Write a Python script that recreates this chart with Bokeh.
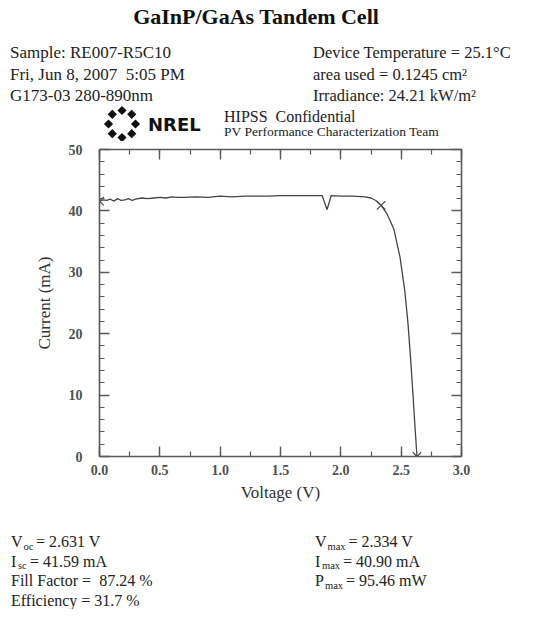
from bokeh.plotting import figure
from bokeh.layouts import column
from bokeh.models import (Range1d, LinearAxis, SingleIntervalTicker, Div,
                          ColumnDataSource, NumeralTickFormatter, CustomJSTickFormatter)
from bokeh.embed import file_html
from bokeh.resources import INLINE

# ---------------- data ----------------
voltage = [0.00, 0.03, 0.06, 0.09, 0.12, 0.15, 0.18, 0.21, 0.24, 0.27, 0.30,
           0.35, 0.40, 0.45, 0.50, 0.55, 0.60, 0.65, 0.70, 0.80, 0.90, 1.00,
           1.10, 1.20, 1.30, 1.40, 1.50, 1.60, 1.70, 1.80, 1.845, 1.886, 1.92,
           2.00, 2.10, 2.20, 2.25, 2.29, 2.334, 2.38, 2.44, 2.49, 2.53, 2.557,
           2.577, 2.596, 2.613, 2.631]
current = [41.6, 41.8, 41.7, 41.9, 41.6, 42.0, 41.7, 41.8, 42.0, 41.7, 41.9,
           42.1, 42.0, 42.1, 42.2, 42.1, 42.3, 42.2, 42.2, 42.3, 42.2, 42.4,
           42.3, 42.4, 42.4, 42.4, 42.5, 42.5, 42.5, 42.5, 42.5, 40.2, 42.5,
           42.4, 42.4, 42.3, 42.1, 41.7, 40.9, 39.6, 37.0, 32.5, 27.0, 21.6,
           16.2, 10.7, 5.3, 0.0]
marker_v = [0.0, 2.334, 2.631]
marker_i = [41.59, 40.90, 0.0]

x_ticks_interval = 0.5
y_ticks_interval = 10

title_text = "GaInP/GaAs Tandem Cell"
info_left = ["Sample: RE007-R5C10", "Fri, Jun 8, 2007&#160;&#160;5:05 PM", "G173-03 280-890nm"]
info_right = ["Device Temperature = 25.1\u00b0C", "area used = 0.1245 cm\u00b2",
              "Irradiance: 24.21 kW/m\u00b2"]
banner = ["HIPSS&#160;&#160;Confidential", "PV Performance Characterization Team"]
results_left = [("V", "oc", "= 2.631 V"), ("I", "sc", "= 41.59 mA"),
                ("Fill Factor =&#160;&#160;87.24 %", "", ""), ("Efficiency = 31.7 %", "", "")]
results_right = [("V", "max", "= 2.334 V"), ("I", "max", "= 40.90 mA"),
                 ("P", "max", "= 95.46 mW")]

SERIF = "'Liberation Serif', 'Times New Roman', serif"
INK = "#222222"
AXC = "#5a5a5a"
W = 519
HH = 141
MAIN_H = 8 + 307 + 50
FH = 609 - HH - MAIN_H

# ---------------- header (SVG text in a Div) ----------------
def t(x, y, s, size=17, weight="normal", anchor="start", fill=INK, family=SERIF):
    style = (f"font-family:{family};font-size:{size}px;font-weight:{weight};"
             f"fill:{fill};text-anchor:{anchor};white-space:pre")
    return f'<text x="{x}" y="{y}" style="{style}">{s}</text>'

parts = [t(256, 24, title_text, size=22, weight="bold", anchor="middle", fill="#111")]
for k, s in enumerate(info_left):
    parts.append(t(10, 58 + 21.5 * k, s))
for k, s in enumerate(info_right):
    parts.append(t(313, 58 + 21.5 * k, s, size=16.5))
parts.append(t(224, 122, banner[0], size=16))
parts.append(t(224, 136, banner[1], size=13.5))
# NREL logo
cx, cy, r, h = 122, 124, 13.5, 4.6
for dx, dy in [(0, -1), (0.72, -0.72), (1, 0), (0.72, 0.72), (0, 1),
               (-0.72, 0.72), (-1, 0), (-0.72, -0.72)]:
    x0, y0 = cx + dx * r, cy + dy * r
    parts.append(f'<polygon points="{x0},{y0-h} {x0+h},{y0} {x0},{y0+h} {x0-h},{y0}" fill="#111"/>')
parts.append(t(148, 131, "NREL", size=18, weight="bold", fill="#111",
               family="'DejaVu Sans', sans-serif"))
header_html = (f'<svg width="{W}" height="{HH}" xmlns="http://www.w3.org/2000/svg" '
               f'style="display:block">' + "".join(parts) + '</svg>')
hdr = Div(text=header_html, width=W, height=HH, margin=0)

# ---------------- main chart ----------------
p = figure(width=W, height=MAIN_H, output_backend="svg", toolbar_location=None,
           x_range=Range1d(0, 3), y_range=Range1d(0, 50),
           min_border_left=99, min_border_right=W - 99 - 362,
           min_border_top=8, min_border_bottom=50,
           x_axis_label="Voltage (V)", y_axis_label="Current (mA)")
p.outline_line_color = None
p.grid.visible = False

AXFONT = "Liberation Serif"

def style_axis(ax, labels=True):
    ax.axis_line_color = AXC
    ax.axis_line_width = 1.6
    ax.major_tick_line_color = AXC
    ax.minor_tick_line_color = AXC
    ax.major_tick_line_width = 1.4
    ax.minor_tick_line_width = 1.2
    ax.major_tick_in = 10
    ax.major_tick_out = 0
    ax.minor_tick_in = 5
    ax.minor_tick_out = 0
    ax.major_label_text_font = AXFONT
    ax.major_label_text_font_style = "bold"
    ax.major_label_text_font_size = "14px"
    ax.major_label_text_color = "#505050"
    ax.axis_label_text_font = AXFONT
    ax.axis_label_text_font_style = "normal"
    ax.axis_label_text_font_size = "17px"
    ax.axis_label_text_color = "#333333"
    if not labels:
        ax.formatter = CustomJSTickFormatter(code="return ''")
        ax.major_label_standoff = 0

p.xaxis.ticker = SingleIntervalTicker(interval=x_ticks_interval, num_minor_ticks=2)
p.yaxis.ticker = SingleIntervalTicker(interval=y_ticks_interval, num_minor_ticks=5)
p.xaxis.formatter = NumeralTickFormatter(format="0.0")
style_axis(p.xaxis[0])
style_axis(p.yaxis[0])
p.xaxis.major_label_standoff = 8
p.xaxis.axis_label_standoff = 5
p.yaxis.major_label_standoff = 17
p.yaxis.axis_label_standoff = 12

top_ax = LinearAxis(ticker=SingleIntervalTicker(interval=x_ticks_interval, num_minor_ticks=2))
right_ax = LinearAxis(ticker=SingleIntervalTicker(interval=y_ticks_interval, num_minor_ticks=5))
style_axis(top_ax, labels=False)
style_axis(right_ax, labels=False)
p.add_layout(top_ax, "above")
p.add_layout(right_ax, "right")

src = ColumnDataSource(dict(v=voltage, i=current))
p.line("v", "i", source=src, line_color="#444444", line_width=1.3)
msrc = ColumnDataSource(dict(v=marker_v, i=marker_i))
p.scatter("v", "i", source=msrc, marker="x", size=12, line_color="#444444", line_width=1.2)

# ---------------- footer (results) ----------------
y0f = HH + MAIN_H
rows = [547, 566.5, 586, 605.5]
fparts = []
def result(x, y, item, sub_dx, rest_dx):
    main, sub, rest = item
    fparts.append(t(x, y - y0f, main, size=16))
    if sub:
        fparts.append(t(x + sub_dx, y - y0f + 2.5, sub, size=10.5))
        fparts.append(t(x + rest_dx, y - y0f, rest, size=16))

result(11, rows[0], results_left[0], 12.5, 25)
result(11, rows[1], results_left[1], 7, 19)
result(11, rows[2], results_left[2], 0, 0)
result(11, rows[3], results_left[3], 0, 0)
result(315, rows[0], results_right[0], 12.5, 33.5)
result(315, rows[1], results_right[1], 7, 28)
result(315, rows[2], results_right[2], 10, 31)
footer_html = (f'<svg width="{W}" height="{FH}" xmlns="http://www.w3.org/2000/svg" '
               f'style="display:block">' + "".join(fparts) + '</svg>')
ftr = Div(text=footer_html, width=W, height=FH, margin=0)

layout = column(hdr, p, ftr, spacing=0)
open("out.html", "w").write(file_html(layout, INLINE))
